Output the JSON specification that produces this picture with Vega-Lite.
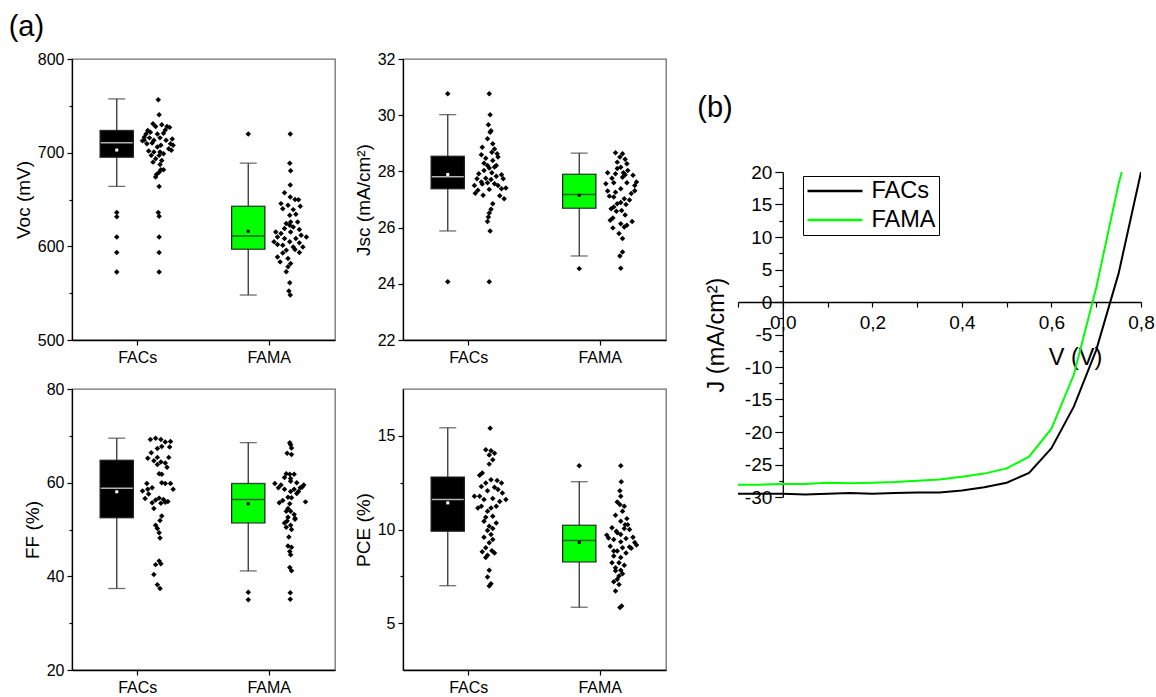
{
"$schema": "https://vega.github.io/schema/vega-lite/v6.json",
"background": "white",
"padding": {"left": 8, "top": 13, "right": 0, "bottom": 0},
"datasets": {
"box": [
{"p":"voc","g":"FACs","lo":664,"q1":695.2,"med":710.5,"q3":723.6,"hi":757.4,"mean":702.8},
{"p":"voc","g":"FAMA","lo":548,"q1":597,"med":611,"q3":642.7,"hi":688.8,"mean":616},
{"p":"jsc","g":"FACs","lo":25.88,"q1":27.38,"med":27.81,"q3":28.54,"hi":30.02,"mean":27.89},
{"p":"jsc","g":"FAMA","lo":24.99,"q1":26.69,"med":27.18,"q3":27.9,"hi":28.65,"mean":27.15},
{"p":"ff","g":"FACs","lo":37.4,"q1":52.5,"med":58.8,"q3":64.8,"hi":69.5,"mean":58.05},
{"p":"ff","g":"FAMA","lo":41.15,"q1":51.4,"med":56.4,"q3":59.8,"hi":68.55,"mean":55.5},
{"p":"pce","g":"FACs","lo":7.0,"q1":9.91,"med":11.6,"q3":12.8,"hi":15.43,"mean":11.42},
{"p":"pce","g":"FAMA","lo":5.85,"q1":8.26,"med":9.41,"q3":10.23,"hi":12.55,"mean":9.31}
],
"out": [
{"p":"voc","g":"FACs","v":636},{"p":"voc","g":"FACs","v":631.5},{"p":"voc","g":"FACs","v":610},{"p":"voc","g":"FACs","v":593.4},{"p":"voc","g":"FACs","v":572.7},
{"p":"voc","g":"FAMA","v":720},
{"p":"jsc","g":"FACs","v":30.76},{"p":"jsc","g":"FACs","v":24.07},
{"p":"jsc","g":"FAMA","v":24.54},
{"p":"ff","g":"FAMA","v":36.6},{"p":"ff","g":"FAMA","v":35.0},
{"p":"pce","g":"FAMA","v":13.4}
],
"pts": [
{"p":"voc","g":"FACs","v":756.6,"j":0},{"p":"voc","g":"FACs","v":740.4,"j":0.05},{"p":"voc","g":"FACs","v":730.8,"j":-0.3},{"p":"voc","g":"FACs","v":728,"j":-0.15},{"p":"voc","g":"FACs","v":729.7,"j":0.2},{"p":"voc","g":"FACs","v":728,"j":0.5},{"p":"voc","g":"FACs","v":727,"j":0.65},{"p":"voc","g":"FACs","v":723.6,"j":-0.6},{"p":"voc","g":"FACs","v":721.8,"j":-0.45},{"p":"voc","g":"FACs","v":720,"j":-0.05},
{"p":"voc","g":"FACs","v":720.7,"j":0.3},{"p":"voc","g":"FACs","v":716.5,"j":-0.8},{"p":"voc","g":"FACs","v":715.8,"j":-0.5},{"p":"voc","g":"FACs","v":715.8,"j":0.1},{"p":"voc","g":"FACs","v":712.6,"j":-0.9},{"p":"voc","g":"FACs","v":713.3,"j":-0.25},{"p":"voc","g":"FACs","v":713.3,"j":0.45},{"p":"voc","g":"FACs","v":709.6,"j":0.7},{"p":"voc","g":"FACs","v":707.8,"j":0.85},{"p":"voc","g":"FACs","v":709.6,"j":-0.65},
{"p":"voc","g":"FACs","v":710.3,"j":-0.35},{"p":"voc","g":"FACs","v":707.8,"j":0.15},{"p":"voc","g":"FACs","v":706.1,"j":-0.05},{"p":"voc","g":"FACs","v":704.3,"j":0.6},{"p":"voc","g":"FACs","v":701.8,"j":-0.55},{"p":"voc","g":"FACs","v":700.7,"j":-0.25},{"p":"voc","g":"FACs","v":700.7,"j":0.1},{"p":"voc","g":"FACs","v":702.5,"j":0.75},{"p":"voc","g":"FACs","v":697.1,"j":-0.4},{"p":"voc","g":"FACs","v":697.1,"j":0.05},
{"p":"voc","g":"FACs","v":698.9,"j":0.3},{"p":"voc","g":"FACs","v":693.5,"j":-0.15},{"p":"voc","g":"FACs","v":691.7,"j":0.2},{"p":"voc","g":"FACs","v":689.9,"j":-0.3},{"p":"voc","g":"FACs","v":687.4,"j":0.1},{"p":"voc","g":"FACs","v":681.7,"j":0.3},{"p":"voc","g":"FACs","v":679.2,"j":0.05},{"p":"voc","g":"FACs","v":676.7,"j":-0.1},{"p":"voc","g":"FACs","v":673.9,"j":-0.15},{"p":"voc","g":"FACs","v":664,"j":0.05},
{"p":"voc","g":"FACs","v":636,"j":0},{"p":"voc","g":"FACs","v":632,"j":0.05},{"p":"voc","g":"FACs","v":610,"j":0.05},{"p":"voc","g":"FACs","v":593.4,"j":0.05},{"p":"voc","g":"FACs","v":572.7,"j":0.05},{"p":"voc","g":"FACs","v":720,"j":-0.7},{"p":"voc","g":"FACs","v":724.3,"j":0.4},{"p":"voc","g":"FACs","v":714.7,"j":0.8},{"p":"voc","g":"FACs","v":713.6,"j":-0.8},{"p":"voc","g":"FACs","v":681.7,"j":0.15},
{"p":"voc","g":"FAMA","v":720,"j":0.03},{"p":"voc","g":"FAMA","v":688.8,"j":0},{"p":"voc","g":"FAMA","v":680.7,"j":0.05},{"p":"voc","g":"FAMA","v":665.4,"j":0.03},{"p":"voc","g":"FAMA","v":657.3,"j":-0.3},{"p":"voc","g":"FAMA","v":652.6,"j":0.03},{"p":"voc","g":"FAMA","v":650.1,"j":0.3},{"p":"voc","g":"FAMA","v":649.7,"j":0.5},{"p":"voc","g":"FAMA","v":645.6,"j":-0.5},{"p":"voc","g":"FAMA","v":643.8,"j":-0.1},
{"p":"voc","g":"FAMA","v":642.8,"j":0.6},{"p":"voc","g":"FAMA","v":640.2,"j":-0.4},{"p":"voc","g":"FAMA","v":639.2,"j":0.2},{"p":"voc","g":"FAMA","v":633.1,"j":0},{"p":"voc","g":"FAMA","v":634.2,"j":0.35},{"p":"voc","g":"FAMA","v":624.3,"j":-0.2},{"p":"voc","g":"FAMA","v":622.5,"j":0},{"p":"voc","g":"FAMA","v":620.7,"j":0.2},{"p":"voc","g":"FAMA","v":619,"j":-0.3},{"p":"voc","g":"FAMA","v":617.9,"j":0.55},
{"p":"voc","g":"FAMA","v":615.3,"j":-0.8},{"p":"voc","g":"FAMA","v":613.6,"j":-0.5},{"p":"voc","g":"FAMA","v":615.3,"j":0.05},{"p":"voc","g":"FAMA","v":611.8,"j":0.65},{"p":"voc","g":"FAMA","v":610,"j":0.95},{"p":"voc","g":"FAMA","v":610,"j":-0.7},{"p":"voc","g":"FAMA","v":608.3,"j":-0.3},{"p":"voc","g":"FAMA","v":608.3,"j":0.35},{"p":"voc","g":"FAMA","v":604.8,"j":-0.9},{"p":"voc","g":"FAMA","v":604.8,"j":0},
{"p":"voc","g":"FAMA","v":603.7,"j":0.55},{"p":"voc","g":"FAMA","v":601.2,"j":-0.4},{"p":"voc","g":"FAMA","v":599.4,"j":0.2},{"p":"voc","g":"FAMA","v":599.4,"j":0.75},{"p":"voc","g":"FAMA","v":595.8,"j":-0.2},{"p":"voc","g":"FAMA","v":596.5,"j":0.3},{"p":"voc","g":"FAMA","v":593.4,"j":0.55},{"p":"voc","g":"FAMA","v":593,"j":-0.4},{"p":"voc","g":"FAMA","v":588.7,"j":-0.7},{"p":"voc","g":"FAMA","v":586.9,"j":-0.1},
{"p":"voc","g":"FAMA","v":583.4,"j":-0.55},{"p":"voc","g":"FAMA","v":581.6,"j":0.05},{"p":"voc","g":"FAMA","v":578.1,"j":-0.1},{"p":"voc","g":"FAMA","v":572.8,"j":-0.2},{"p":"voc","g":"FAMA","v":561,"j":0},{"p":"voc","g":"FAMA","v":552.2,"j":-0.05},{"p":"voc","g":"FAMA","v":548,"j":0.03},{"p":"voc","g":"FAMA","v":626,"j":0.05},{"p":"voc","g":"FAMA","v":626,"j":0.45},{"p":"voc","g":"FAMA","v":602,"j":-0.7},
{"p":"jsc","g":"FACs","v":30.76,"j":0},{"p":"jsc","g":"FACs","v":30.02,"j":0.05},{"p":"jsc","g":"FACs","v":29.66,"j":-0.05},{"p":"jsc","g":"FACs","v":29.45,"j":0.1},{"p":"jsc","g":"FACs","v":29.39,"j":0.05},{"p":"jsc","g":"FACs","v":28.86,"j":-0.4},{"p":"jsc","g":"FACs","v":29.16,"j":-0.1},{"p":"jsc","g":"FACs","v":28.98,"j":0.2},{"p":"jsc","g":"FACs","v":28.8,"j":0.3},{"p":"jsc","g":"FACs","v":28.59,"j":-0.45},
{"p":"jsc","g":"FACs","v":28.68,"j":0.15},{"p":"jsc","g":"FACs","v":28.63,"j":0.45},{"p":"jsc","g":"FACs","v":28.51,"j":0.5},{"p":"jsc","g":"FACs","v":28.47,"j":-0.2},{"p":"jsc","g":"FACs","v":28.39,"j":0.2},{"p":"jsc","g":"FACs","v":28.21,"j":-0.1},{"p":"jsc","g":"FACs","v":28.21,"j":0.4},{"p":"jsc","g":"FACs","v":28.12,"j":0},{"p":"jsc","g":"FACs","v":28.03,"j":-0.3},{"p":"jsc","g":"FACs","v":27.95,"j":0.15},
{"p":"jsc","g":"FACs","v":27.92,"j":-0.6},{"p":"jsc","g":"FACs","v":27.88,"j":0.7},{"p":"jsc","g":"FACs","v":27.83,"j":0.4},{"p":"jsc","g":"FACs","v":27.76,"j":-0.2},{"p":"jsc","g":"FACs","v":27.74,"j":-0.7},{"p":"jsc","g":"FACs","v":27.71,"j":0.1},{"p":"jsc","g":"FACs","v":27.74,"j":0.8},{"p":"jsc","g":"FACs","v":27.62,"j":-0.45},{"p":"jsc","g":"FACs","v":27.6,"j":-0.1},{"p":"jsc","g":"FACs","v":27.56,"j":0.3},
{"p":"jsc","g":"FACs","v":27.5,"j":-0.85},{"p":"jsc","g":"FACs","v":27.55,"j":-0.4},{"p":"jsc","g":"FACs","v":27.41,"j":0.95},{"p":"jsc","g":"FACs","v":27.38,"j":0.7},{"p":"jsc","g":"FACs","v":27.36,"j":0},{"p":"jsc","g":"FACs","v":27.33,"j":-0.65},{"p":"jsc","g":"FACs","v":27.22,"j":-0.8},{"p":"jsc","g":"FACs","v":27.15,"j":-0.35},{"p":"jsc","g":"FACs","v":27.13,"j":0.6},{"p":"jsc","g":"FACs","v":27.03,"j":0.85},
{"p":"jsc","g":"FACs","v":26.85,"j":0.2},{"p":"jsc","g":"FACs","v":26.65,"j":0.1},{"p":"jsc","g":"FACs","v":26.52,"j":0},{"p":"jsc","g":"FACs","v":26.38,"j":-0.05},{"p":"jsc","g":"FACs","v":26.22,"j":-0.1},{"p":"jsc","g":"FACs","v":25.88,"j":0.05},{"p":"jsc","g":"FACs","v":24.07,"j":0},{"p":"jsc","g":"FACs","v":28.16,"j":0.3},{"p":"jsc","g":"FACs","v":28.29,"j":-0.3},{"p":"jsc","g":"FACs","v":27.5,"j":0.5},
{"p":"jsc","g":"FAMA","v":28.66,"j":-0.3},{"p":"jsc","g":"FAMA","v":28.63,"j":0.1},{"p":"jsc","g":"FAMA","v":28.51,"j":-0.05},{"p":"jsc","g":"FAMA","v":28.43,"j":0.25},{"p":"jsc","g":"FAMA","v":28.33,"j":-0.2},{"p":"jsc","g":"FAMA","v":28.27,"j":0.35},{"p":"jsc","g":"FAMA","v":28.15,"j":0},{"p":"jsc","g":"FAMA","v":27.95,"j":-0.75},{"p":"jsc","g":"FAMA","v":27.92,"j":-0.3},{"p":"jsc","g":"FAMA","v":27.95,"j":0.15},
{"p":"jsc","g":"FAMA","v":27.86,"j":0.7},{"p":"jsc","g":"FAMA","v":27.88,"j":0.25},{"p":"jsc","g":"FAMA","v":27.76,"j":-0.5},{"p":"jsc","g":"FAMA","v":27.79,"j":0.1},{"p":"jsc","g":"FAMA","v":27.62,"j":0.9},{"p":"jsc","g":"FAMA","v":27.56,"j":-0.85},{"p":"jsc","g":"FAMA","v":27.6,"j":-0.4},{"p":"jsc","g":"FAMA","v":27.6,"j":0.35},{"p":"jsc","g":"FAMA","v":27.38,"j":0},{"p":"jsc","g":"FAMA","v":27.31,"j":0.8},
{"p":"jsc","g":"FAMA","v":27.21,"j":0.6},{"p":"jsc","g":"FAMA","v":27.12,"j":-0.65},{"p":"jsc","g":"FAMA","v":27.09,"j":-0.4},{"p":"jsc","g":"FAMA","v":27.03,"j":0.2},{"p":"jsc","g":"FAMA","v":26.98,"j":0.5},{"p":"jsc","g":"FAMA","v":26.89,"j":0},{"p":"jsc","g":"FAMA","v":26.85,"j":-0.2},{"p":"jsc","g":"FAMA","v":26.82,"j":0.3},{"p":"jsc","g":"FAMA","v":26.73,"j":-0.4},{"p":"jsc","g":"FAMA","v":26.67,"j":-0.55},
{"p":"jsc","g":"FAMA","v":26.61,"j":0.05},{"p":"jsc","g":"FAMA","v":26.58,"j":-0.25},{"p":"jsc","g":"FAMA","v":26.34,"j":-0.45},{"p":"jsc","g":"FAMA","v":26.26,"j":-0.6},{"p":"jsc","g":"FAMA","v":26.22,"j":0.65},{"p":"jsc","g":"FAMA","v":26.14,"j":0},{"p":"jsc","g":"FAMA","v":26.08,"j":0.35},{"p":"jsc","g":"FAMA","v":26.02,"j":0.2},{"p":"jsc","g":"FAMA","v":25.99,"j":-0.45},{"p":"jsc","g":"FAMA","v":25.79,"j":-0.1},
{"p":"jsc","g":"FAMA","v":25.61,"j":0.1},{"p":"jsc","g":"FAMA","v":25.13,"j":0.1},{"p":"jsc","g":"FAMA","v":24.99,"j":-0.05},{"p":"jsc","g":"FAMA","v":24.55,"j":0},{"p":"jsc","g":"FAMA","v":27.3,"j":-0.75},{"p":"jsc","g":"FAMA","v":27.5,"j":0.8},{"p":"jsc","g":"FAMA","v":28.1,"j":-0.2},{"p":"jsc","g":"FAMA","v":28.03,"j":0.4},{"p":"jsc","g":"FAMA","v":27.26,"j":-0.3},{"p":"jsc","g":"FAMA","v":26.45,"j":0.25},
{"p":"ff","g":"FACs","v":69.2,"j":-0.45},{"p":"ff","g":"FACs","v":69.5,"j":-0.15},{"p":"ff","g":"FACs","v":69.2,"j":0.15},{"p":"ff","g":"FACs","v":68.7,"j":0.4},{"p":"ff","g":"FACs","v":67.6,"j":0.65},{"p":"ff","g":"FACs","v":67.7,"j":0.2},{"p":"ff","g":"FACs","v":67.3,"j":-0.05},{"p":"ff","g":"FACs","v":66.4,"j":-0.4},{"p":"ff","g":"FACs","v":65.4,"j":0.6},{"p":"ff","g":"FACs","v":65.2,"j":-0.6},
{"p":"ff","g":"FACs","v":64.7,"j":-0.25},{"p":"ff","g":"FACs","v":64.4,"j":0.15},{"p":"ff","g":"FACs","v":64.2,"j":0.4},{"p":"ff","g":"FACs","v":63.9,"j":-0.05},{"p":"ff","g":"FACs","v":63.3,"j":0.5},{"p":"ff","g":"FACs","v":61.9,"j":0.05},{"p":"ff","g":"FACs","v":61.8,"j":0.2},{"p":"ff","g":"FACs","v":60.0,"j":0.2},{"p":"ff","g":"FACs","v":59.8,"j":0.7},{"p":"ff","g":"FACs","v":59.8,"j":-0.65},
{"p":"ff","g":"FACs","v":58.6,"j":0.85},{"p":"ff","g":"FACs","v":58.9,"j":-0.35},{"p":"ff","g":"FACs","v":58.2,"j":-0.9},{"p":"ff","g":"FACs","v":57.6,"j":-0.55},{"p":"ff","g":"FACs","v":56.6,"j":-0.75},{"p":"ff","g":"FACs","v":56.7,"j":0.05},{"p":"ff","g":"FACs","v":56.4,"j":0.3},{"p":"ff","g":"FACs","v":56.3,"j":-0.15},{"p":"ff","g":"FACs","v":56.0,"j":0.55},{"p":"ff","g":"FACs","v":55.7,"j":-0.35},
{"p":"ff","g":"FACs","v":55.6,"j":0.15},{"p":"ff","g":"FACs","v":54.5,"j":-0.25},{"p":"ff","g":"FACs","v":52.9,"j":0.2},{"p":"ff","g":"FACs","v":51.9,"j":0.1},{"p":"ff","g":"FACs","v":50.9,"j":-0.15},{"p":"ff","g":"FACs","v":50.2,"j":-0.05},{"p":"ff","g":"FACs","v":49.3,"j":0.05},{"p":"ff","g":"FACs","v":48.2,"j":0.1},{"p":"ff","g":"FACs","v":43.3,"j":0.05},{"p":"ff","g":"FACs","v":42.7,"j":0.15},
{"p":"ff","g":"FACs","v":42.5,"j":-0.15},{"p":"ff","g":"FACs","v":40.4,"j":-0.25},{"p":"ff","g":"FACs","v":38.2,"j":-0.05},{"p":"ff","g":"FACs","v":37.4,"j":0.1},{"p":"ff","g":"FACs","v":65.4,"j":-0.05},{"p":"ff","g":"FACs","v":59.8,"j":0.4},{"p":"ff","g":"FACs","v":58.6,"j":-0.6},{"p":"ff","g":"FACs","v":68.8,"j":0.7},{"p":"ff","g":"FACs","v":55.8,"j":0.4},
{"p":"ff","g":"FAMA","v":68.5,"j":0},{"p":"ff","g":"FAMA","v":68.1,"j":0.05},{"p":"ff","g":"FAMA","v":67.4,"j":0.1},{"p":"ff","g":"FAMA","v":66.3,"j":-0.15},{"p":"ff","g":"FAMA","v":66.0,"j":0.1},{"p":"ff","g":"FAMA","v":61.9,"j":-0.2},{"p":"ff","g":"FAMA","v":61.8,"j":0},{"p":"ff","g":"FAMA","v":61.8,"j":0.25},{"p":"ff","g":"FAMA","v":60.9,"j":0.05},{"p":"ff","g":"FAMA","v":60.0,"j":0.4},
{"p":"ff","g":"FAMA","v":59.8,"j":-0.85},{"p":"ff","g":"FAMA","v":59.5,"j":-0.5},{"p":"ff","g":"FAMA","v":58.9,"j":-0.65},{"p":"ff","g":"FAMA","v":59.5,"j":0.8},{"p":"ff","g":"FAMA","v":58.9,"j":0.6},{"p":"ff","g":"FAMA","v":58.6,"j":0.25},{"p":"ff","g":"FAMA","v":58.6,"j":-0.3},{"p":"ff","g":"FAMA","v":58.1,"j":0.05},{"p":"ff","g":"FAMA","v":58.1,"j":0.5},{"p":"ff","g":"FAMA","v":56.9,"j":-0.1},
{"p":"ff","g":"FAMA","v":55.9,"j":0.9},{"p":"ff","g":"FAMA","v":56.2,"j":-0.4},{"p":"ff","g":"FAMA","v":55.7,"j":-0.6},{"p":"ff","g":"FAMA","v":55.5,"j":0},{"p":"ff","g":"FAMA","v":54.5,"j":-0.1},{"p":"ff","g":"FAMA","v":53.9,"j":0.05},{"p":"ff","g":"FAMA","v":53.2,"j":0.25},{"p":"ff","g":"FAMA","v":52.6,"j":-0.1},{"p":"ff","g":"FAMA","v":52.4,"j":0.3},{"p":"ff","g":"FAMA","v":51.4,"j":-0.3},
{"p":"ff","g":"FAMA","v":50.9,"j":0.05},{"p":"ff","g":"FAMA","v":50.5,"j":-0.2},{"p":"ff","g":"FAMA","v":50.0,"j":0.1},{"p":"ff","g":"FAMA","v":48.4,"j":-0.05},{"p":"ff","g":"FAMA","v":46.5,"j":-0.1},{"p":"ff","g":"FAMA","v":46.2,"j":0.1},{"p":"ff","g":"FAMA","v":45.3,"j":0},{"p":"ff","g":"FAMA","v":44.6,"j":0.05},{"p":"ff","g":"FAMA","v":41.9,"j":0},{"p":"ff","g":"FAMA","v":41.2,"j":0.1},
{"p":"ff","g":"FAMA","v":36.5,"j":0.03},{"p":"ff","g":"FAMA","v":35.1,"j":0.03},{"p":"ff","g":"FAMA","v":60.3,"j":0.05},{"p":"ff","g":"FAMA","v":53.9,"j":-0.2},{"p":"ff","g":"FAMA","v":52.2,"j":0.3},{"p":"ff","g":"FAMA","v":57.7,"j":0.4},{"p":"ff","g":"FAMA","v":61.1,"j":-0.3},{"p":"ff","g":"FAMA","v":56.8,"j":0.1},{"p":"ff","g":"FAMA","v":59.0,"j":0.7},{"p":"ff","g":"FAMA","v":51.8,"j":-0.15},
{"p":"pce","g":"FACs","v":15.4,"j":0.05},{"p":"pce","g":"FACs","v":14.26,"j":-0.2},{"p":"pce","g":"FACs","v":14.2,"j":0.1},{"p":"pce","g":"FACs","v":14.07,"j":0.3},{"p":"pce","g":"FACs","v":13.98,"j":0},{"p":"pce","g":"FACs","v":13.72,"j":0.2},{"p":"pce","g":"FACs","v":13.49,"j":0},{"p":"pce","g":"FACs","v":13.01,"j":-0.4},{"p":"pce","g":"FACs","v":12.89,"j":-0.55},{"p":"pce","g":"FACs","v":12.66,"j":0.1},
{"p":"pce","g":"FACs","v":12.48,"j":0.7},{"p":"pce","g":"FACs","v":12.61,"j":0.45},{"p":"pce","g":"FACs","v":12.48,"j":-0.2},{"p":"pce","g":"FACs","v":12.25,"j":0.3},{"p":"pce","g":"FACs","v":12.07,"j":-0.1},{"p":"pce","g":"FACs","v":11.95,"j":0.75},{"p":"pce","g":"FACs","v":11.77,"j":-0.55},{"p":"pce","g":"FACs","v":11.77,"j":-0.85},{"p":"pce","g":"FACs","v":11.65,"j":0.2},{"p":"pce","g":"FACs","v":11.6,"j":-0.3},
{"p":"pce","g":"FACs","v":11.6,"j":0.95},{"p":"pce","g":"FACs","v":11.24,"j":-0.45},{"p":"pce","g":"FACs","v":11.24,"j":0.4},{"p":"pce","g":"FACs","v":11.15,"j":0.1},{"p":"pce","g":"FACs","v":11.15,"j":-0.65},{"p":"pce","g":"FACs","v":10.71,"j":0.2},{"p":"pce","g":"FACs","v":10.65,"j":-0.2},{"p":"pce","g":"FACs","v":10.44,"j":-0.3},{"p":"pce","g":"FACs","v":10.18,"j":0},{"p":"pce","g":"FACs","v":10.05,"j":0.2},
{"p":"pce","g":"FACs","v":9.95,"j":-0.1},{"p":"pce","g":"FACs","v":9.73,"j":0.1},{"p":"pce","g":"FACs","v":9.59,"j":-0.3},{"p":"pce","g":"FACs","v":9.47,"j":0.2},{"p":"pce","g":"FACs","v":9.29,"j":0},{"p":"pce","g":"FACs","v":9.02,"j":-0.2},{"p":"pce","g":"FACs","v":8.87,"j":0.15},{"p":"pce","g":"FACs","v":8.81,"j":-0.4},{"p":"pce","g":"FACs","v":8.63,"j":-0.1},{"p":"pce","g":"FACs","v":8.75,"j":0.3},
{"p":"pce","g":"FACs","v":7.82,"j":0},{"p":"pce","g":"FACs","v":7.46,"j":-0.1},{"p":"pce","g":"FACs","v":7.11,"j":0.1},{"p":"pce","g":"FACs","v":6.99,"j":0},{"p":"pce","g":"FACs","v":12.13,"j":0.5},{"p":"pce","g":"FACs","v":12.3,"j":-0.45},{"p":"pce","g":"FACs","v":11.5,"j":0.6},{"p":"pce","g":"FACs","v":10.98,"j":-0.1},{"p":"pce","g":"FACs","v":10.35,"j":0.4},{"p":"pce","g":"FACs","v":8.5,"j":-0.2},
{"p":"pce","g":"FAMA","v":13.4,"j":0},{"p":"pce","g":"FAMA","v":12.55,"j":0.03},{"p":"pce","g":"FAMA","v":12.07,"j":-0.05},{"p":"pce","g":"FAMA","v":11.77,"j":0},{"p":"pce","g":"FAMA","v":11.47,"j":-0.2},{"p":"pce","g":"FAMA","v":11.33,"j":-0.05},{"p":"pce","g":"FAMA","v":11.24,"j":0.2},{"p":"pce","g":"FAMA","v":10.76,"j":-0.3},{"p":"pce","g":"FAMA","v":10.58,"j":0.35},{"p":"pce","g":"FAMA","v":10.44,"j":0},
{"p":"pce","g":"FAMA","v":10.26,"j":0.25},{"p":"pce","g":"FAMA","v":10.09,"j":-0.5},{"p":"pce","g":"FAMA","v":9.91,"j":-0.25},{"p":"pce","g":"FAMA","v":10.0,"j":0.5},{"p":"pce","g":"FAMA","v":9.7,"j":-0.8},{"p":"pce","g":"FAMA","v":9.73,"j":0},{"p":"pce","g":"FAMA","v":9.59,"j":0.7},{"p":"pce","g":"FAMA","v":9.47,"j":-0.4},{"p":"pce","g":"FAMA","v":9.52,"j":0.3},{"p":"pce","g":"FAMA","v":9.34,"j":0},
{"p":"pce","g":"FAMA","v":9.17,"j":0.9},{"p":"pce","g":"FAMA","v":9.11,"j":-0.6},{"p":"pce","g":"FAMA","v":9.06,"j":0.5},{"p":"pce","g":"FAMA","v":9.02,"j":0.1},{"p":"pce","g":"FAMA","v":8.85,"j":-0.2},{"p":"pce","g":"FAMA","v":8.75,"j":0.3},{"p":"pce","g":"FAMA","v":8.58,"j":-0.4},{"p":"pce","g":"FAMA","v":8.5,"j":0},{"p":"pce","g":"FAMA","v":8.22,"j":-0.1},{"p":"pce","g":"FAMA","v":8.09,"j":0.2},
{"p":"pce","g":"FAMA","v":7.96,"j":-0.3},{"p":"pce","g":"FAMA","v":7.82,"j":0},{"p":"pce","g":"FAMA","v":7.64,"j":0.1},{"p":"pce","g":"FAMA","v":7.52,"j":-0.1},{"p":"pce","g":"FAMA","v":7.34,"j":-0.2},{"p":"pce","g":"FAMA","v":7.21,"j":-0.4},{"p":"pce","g":"FAMA","v":7.07,"j":-0.1},{"p":"pce","g":"FAMA","v":6.72,"j":-0.3},{"p":"pce","g":"FAMA","v":5.92,"j":0.05},{"p":"pce","g":"FAMA","v":5.83,"j":-0.05},
{"p":"pce","g":"FAMA","v":9.3,"j":0.8},{"p":"pce","g":"FAMA","v":9.55,"j":-0.7},{"p":"pce","g":"FAMA","v":10.26,"j":0.4},{"p":"pce","g":"FAMA","v":8.85,"j":-0.4},{"p":"pce","g":"FAMA","v":10.98,"j":0.1},{"p":"pce","g":"FAMA","v":9.82,"j":-0.2},{"p":"pce","g":"FAMA","v":9.0,"j":0.6},{"p":"pce","g":"FAMA","v":8.22,"j":-0.5},{"p":"pce","g":"FAMA","v":10.05,"j":0.2},{"p":"pce","g":"FAMA","v":7.8,"j":-0.3}
],
"jv": [
{"s":"FACs","V":-0.1,"J":-29.5},{"s":"FACs","V":-0.05,"J":-29.5},{"s":"FACs","V":0,"J":-29.5},{"s":"FACs","V":0.05,"J":-29.6},{"s":"FACs","V":0.1,"J":-29.5},{"s":"FACs","V":0.15,"J":-29.4},{"s":"FACs","V":0.2,"J":-29.5},{"s":"FACs","V":0.25,"J":-29.4},{"s":"FACs","V":0.3,"J":-29.3},{"s":"FACs","V":0.35,"J":-29.3},{"s":"FACs","V":0.4,"J":-29.0},{"s":"FACs","V":0.45,"J":-28.5},{"s":"FACs","V":0.5,"J":-27.8},{"s":"FACs","V":0.55,"J":-26.3},{"s":"FACs","V":0.6,"J":-22.5},{"s":"FACs","V":0.65,"J":-16.1},{"s":"FACs","V":0.7,"J":-7.4},{"s":"FACs","V":0.75,"J":4.4},{"s":"FACs","V":0.8,"J":20},
{"s":"FAMA","V":-0.1,"J":-28.1},{"s":"FAMA","V":-0.05,"J":-28.1},{"s":"FAMA","V":0,"J":-28.0},{"s":"FAMA","V":0.05,"J":-28.0},{"s":"FAMA","V":0.1,"J":-27.8},{"s":"FAMA","V":0.15,"J":-27.9},{"s":"FAMA","V":0.2,"J":-27.8},{"s":"FAMA","V":0.25,"J":-27.7},{"s":"FAMA","V":0.3,"J":-27.5},{"s":"FAMA","V":0.35,"J":-27.3},{"s":"FAMA","V":0.4,"J":-26.9},{"s":"FAMA","V":0.45,"J":-26.4},{"s":"FAMA","V":0.5,"J":-25.6},{"s":"FAMA","V":0.55,"J":-23.8},{"s":"FAMA","V":0.6,"J":-19.5},{"s":"FAMA","V":0.65,"J":-11.2},{"s":"FAMA","V":0.7,"J":2.2},{"s":"FAMA","V":0.75,"J":18.2},{"s":"FAMA","V":0.757,"J":20}
]
},
"resolve": {"legend": {"color": "independent"}},
"hconcat": [
{
"title": {"text": "(a)", "anchor": "start", "fontSize": 29, "offset": 8, "dx": -5},
"columns": 2,
"spacing": {"row": 14, "column": 17},
"concat": [
{
"width": 263, "height": 281,
"layer": [
{"data": {"name": "box"}, "transform": [{"filter": "datum.p==='voc'"}],
 "mark": {"type": "rule", "color": "#333", "strokeWidth": 1.3},
 "encoding": {
  "x": {"field": "g", "type": "nominal", "scale": {"type": "band", "domain": ["FACs", "FAMA"], "paddingInner": 0, "paddingOuter": 0}, "axis": {"title": null, "labelAngle": 0, "tickSize": 5, "labelPadding": 4, "labelFontSize": 16}},
  "xOffset": {"datum": -2.371, "type": "quantitative", "scale": {"domain": [-1, 1], "range": [68.75, 103.75]}},
  "y": {"field": "lo", "type": "quantitative", "title": "Voc (mV)", "scale": {"domain": [500, 800], "nice": false, "zero": false},
   "axis": {"values": [500, 550, 600, 650, 700, 750, 800], "labelExpr": "datum.value % 100 === 0 ? datum.label : ''", "tickSize": {"condition": {"test": "datum.value % 100 !== 0", "value": 3}, "value": 5}, "labelFontSize": 16, "titleFontSize": 19, "labelPadding": 3, "titlePadding": 4}},
  "y2": {"field": "hi"}}},
{"data": {"name": "box"}, "transform": [{"filter": "datum.p==='voc'"}, {"fold": ["lo", "hi"], "as": ["k", "val"]}],
 "mark": {"type": "tick", "color": "#333", "size": 17, "thickness": 1.3},
 "encoding": {"x": {"field": "g", "type": "nominal"}, "xOffset": {"datum": -2.371, "type": "quantitative"}, "y": {"field": "val", "type": "quantitative"}}},
{"data": {"name": "box"}, "transform": [{"filter": "datum.p==='voc'"}],
 "mark": {"type": "rule", "color": "#222", "strokeWidth": 34.5},
 "encoding": {"x": {"field": "g", "type": "nominal"}, "xOffset": {"datum": -2.371, "type": "quantitative"}, "y": {"field": "q1", "type": "quantitative"}, "y2": {"field": "q3"}}},
{"data": {"name": "box"}, "transform": [{"filter": "datum.p==='voc'"}],
 "mark": {"type": "rule", "strokeWidth": 32},
 "encoding": {"x": {"field": "g", "type": "nominal"}, "xOffset": {"datum": -2.371, "type": "quantitative"}, "y": {"field": "q1", "type": "quantitative"}, "y2": {"field": "q3"}, "color": {"condition": {"test": "datum.g==='FACs'", "value": "#000000"}, "value": "#00ff00"}}},
{"data": {"name": "box"}, "transform": [{"filter": "datum.p==='voc'"}, {"fold": ["q1", "q3"], "as": ["k", "val"]}],
 "mark": {"type": "tick", "color": "#222", "size": 34.5, "thickness": 1.5},
 "encoding": {"x": {"field": "g", "type": "nominal"}, "xOffset": {"datum": -2.371, "type": "quantitative"}, "y": {"field": "val", "type": "quantitative"}}},
{"data": {"name": "box"}, "transform": [{"filter": "datum.p==='voc'"}],
 "mark": {"type": "tick", "size": 32, "thickness": 1.5},
 "encoding": {"x": {"field": "g", "type": "nominal"}, "xOffset": {"datum": -2.371, "type": "quantitative"}, "y": {"field": "med", "type": "quantitative"}, "color": {"condition": {"test": "datum.g==='FACs'", "value": "#ffffff"}, "value": "#222222"}}},
{"data": {"name": "box"}, "transform": [{"filter": "datum.p==='voc'"}],
 "mark": {"type": "square", "size": 9, "opacity": 1},
 "encoding": {"x": {"field": "g", "type": "nominal"}, "xOffset": {"datum": -2.371, "type": "quantitative"}, "y": {"field": "mean", "type": "quantitative"}, "color": {"condition": {"test": "datum.g==='FACs'", "value": "#ffffff"}, "value": "#000000"}}},
{"data": {"name": "out"}, "transform": [{"filter": "datum.p==='voc'"}],
 "mark": {"type": "point", "shape": "diamond", "filled": true, "size": 30, "color": "#000", "opacity": 1},
 "encoding": {"x": {"field": "g", "type": "nominal"}, "xOffset": {"datum": -2.371, "type": "quantitative"}, "y": {"field": "v", "type": "quantitative"}}},
{"data": {"name": "pts"}, "transform": [{"filter": "datum.p==='voc'"}],
 "mark": {"type": "point", "shape": "diamond", "filled": true, "size": 30, "color": "#000", "opacity": 1},
 "encoding": {"x": {"field": "g", "type": "nominal"}, "xOffset": {"field": "j", "type": "quantitative"}, "y": {"field": "v", "type": "quantitative"}}}
]
},
{
"width": 263, "height": 281,
"layer": [
{"data": {"name": "box"}, "transform": [{"filter": "datum.p==='jsc'"}],
 "mark": {"type": "rule", "color": "#333", "strokeWidth": 1.3},
 "encoding": {
  "x": {"field": "g", "type": "nominal", "scale": {"type": "band", "domain": ["FACs", "FAMA"], "paddingInner": 0, "paddingOuter": 0}, "axis": {"title": null, "labelAngle": 0, "tickSize": 5, "labelPadding": 4, "labelFontSize": 16}},
  "xOffset": {"datum": -2.371, "type": "quantitative", "scale": {"domain": [-1, 1], "range": [68.75, 103.75]}},
  "y": {"field": "lo", "type": "quantitative", "title": "Jsc (mA/cm²)", "scale": {"domain": [22, 32], "nice": false, "zero": false},
   "axis": {"values": [22, 23, 24, 25, 26, 27, 28, 29, 30, 31, 32], "labelExpr": "datum.value % 2 === 0 ? datum.label : ''", "tickSize": {"condition": {"test": "datum.value % 2 !== 0", "value": 3}, "value": 5}, "labelFontSize": 16, "titleFontSize": 19, "labelPadding": 3, "titlePadding": 4}},
  "y2": {"field": "hi"}}},
{"data": {"name": "box"}, "transform": [{"filter": "datum.p==='jsc'"}, {"fold": ["lo", "hi"], "as": ["k", "val"]}],
 "mark": {"type": "tick", "color": "#333", "size": 17, "thickness": 1.3},
 "encoding": {"x": {"field": "g", "type": "nominal"}, "xOffset": {"datum": -2.371, "type": "quantitative"}, "y": {"field": "val", "type": "quantitative"}}},
{"data": {"name": "box"}, "transform": [{"filter": "datum.p==='jsc'"}],
 "mark": {"type": "rule", "color": "#222", "strokeWidth": 34.5},
 "encoding": {"x": {"field": "g", "type": "nominal"}, "xOffset": {"datum": -2.371, "type": "quantitative"}, "y": {"field": "q1", "type": "quantitative"}, "y2": {"field": "q3"}}},
{"data": {"name": "box"}, "transform": [{"filter": "datum.p==='jsc'"}],
 "mark": {"type": "rule", "strokeWidth": 32},
 "encoding": {"x": {"field": "g", "type": "nominal"}, "xOffset": {"datum": -2.371, "type": "quantitative"}, "y": {"field": "q1", "type": "quantitative"}, "y2": {"field": "q3"}, "color": {"condition": {"test": "datum.g==='FACs'", "value": "#000000"}, "value": "#00ff00"}}},
{"data": {"name": "box"}, "transform": [{"filter": "datum.p==='jsc'"}, {"fold": ["q1", "q3"], "as": ["k", "val"]}],
 "mark": {"type": "tick", "color": "#222", "size": 34.5, "thickness": 1.5},
 "encoding": {"x": {"field": "g", "type": "nominal"}, "xOffset": {"datum": -2.371, "type": "quantitative"}, "y": {"field": "val", "type": "quantitative"}}},
{"data": {"name": "box"}, "transform": [{"filter": "datum.p==='jsc'"}],
 "mark": {"type": "tick", "size": 32, "thickness": 1.5},
 "encoding": {"x": {"field": "g", "type": "nominal"}, "xOffset": {"datum": -2.371, "type": "quantitative"}, "y": {"field": "med", "type": "quantitative"}, "color": {"condition": {"test": "datum.g==='FACs'", "value": "#ffffff"}, "value": "#222222"}}},
{"data": {"name": "box"}, "transform": [{"filter": "datum.p==='jsc'"}],
 "mark": {"type": "square", "size": 9, "opacity": 1},
 "encoding": {"x": {"field": "g", "type": "nominal"}, "xOffset": {"datum": -2.371, "type": "quantitative"}, "y": {"field": "mean", "type": "quantitative"}, "color": {"condition": {"test": "datum.g==='FACs'", "value": "#ffffff"}, "value": "#000000"}}},
{"data": {"name": "out"}, "transform": [{"filter": "datum.p==='jsc'"}],
 "mark": {"type": "point", "shape": "diamond", "filled": true, "size": 30, "color": "#000", "opacity": 1},
 "encoding": {"x": {"field": "g", "type": "nominal"}, "xOffset": {"datum": -2.371, "type": "quantitative"}, "y": {"field": "v", "type": "quantitative"}}},
{"data": {"name": "pts"}, "transform": [{"filter": "datum.p==='jsc'"}],
 "mark": {"type": "point", "shape": "diamond", "filled": true, "size": 30, "color": "#000", "opacity": 1},
 "encoding": {"x": {"field": "g", "type": "nominal"}, "xOffset": {"field": "j", "type": "quantitative"}, "y": {"field": "v", "type": "quantitative"}}}
]
},
{
"width": 263, "height": 281,
"layer": [
{"data": {"name": "box"}, "transform": [{"filter": "datum.p==='ff'"}],
 "mark": {"type": "rule", "color": "#333", "strokeWidth": 1.3},
 "encoding": {
  "x": {"field": "g", "type": "nominal", "scale": {"type": "band", "domain": ["FACs", "FAMA"], "paddingInner": 0, "paddingOuter": 0}, "axis": {"title": null, "labelAngle": 0, "tickSize": 5, "labelPadding": 4, "labelFontSize": 16}},
  "xOffset": {"datum": -2.371, "type": "quantitative", "scale": {"domain": [-1, 1], "range": [68.75, 103.75]}},
  "y": {"field": "lo", "type": "quantitative", "title": "FF (%)", "scale": {"domain": [20, 80], "nice": false, "zero": false},
   "axis": {"values": [20, 30, 40, 50, 60, 70, 80], "labelExpr": "datum.value % 20 === 0 ? datum.label : ''", "tickSize": {"condition": {"test": "datum.value % 20 !== 0", "value": 3}, "value": 5}, "labelFontSize": 16, "titleFontSize": 19, "labelPadding": 3, "titlePadding": 4}},
  "y2": {"field": "hi"}}},
{"data": {"name": "box"}, "transform": [{"filter": "datum.p==='ff'"}, {"fold": ["lo", "hi"], "as": ["k", "val"]}],
 "mark": {"type": "tick", "color": "#333", "size": 17, "thickness": 1.3},
 "encoding": {"x": {"field": "g", "type": "nominal"}, "xOffset": {"datum": -2.371, "type": "quantitative"}, "y": {"field": "val", "type": "quantitative"}}},
{"data": {"name": "box"}, "transform": [{"filter": "datum.p==='ff'"}],
 "mark": {"type": "rule", "color": "#222", "strokeWidth": 34.5},
 "encoding": {"x": {"field": "g", "type": "nominal"}, "xOffset": {"datum": -2.371, "type": "quantitative"}, "y": {"field": "q1", "type": "quantitative"}, "y2": {"field": "q3"}}},
{"data": {"name": "box"}, "transform": [{"filter": "datum.p==='ff'"}],
 "mark": {"type": "rule", "strokeWidth": 32},
 "encoding": {"x": {"field": "g", "type": "nominal"}, "xOffset": {"datum": -2.371, "type": "quantitative"}, "y": {"field": "q1", "type": "quantitative"}, "y2": {"field": "q3"}, "color": {"condition": {"test": "datum.g==='FACs'", "value": "#000000"}, "value": "#00ff00"}}},
{"data": {"name": "box"}, "transform": [{"filter": "datum.p==='ff'"}, {"fold": ["q1", "q3"], "as": ["k", "val"]}],
 "mark": {"type": "tick", "color": "#222", "size": 34.5, "thickness": 1.5},
 "encoding": {"x": {"field": "g", "type": "nominal"}, "xOffset": {"datum": -2.371, "type": "quantitative"}, "y": {"field": "val", "type": "quantitative"}}},
{"data": {"name": "box"}, "transform": [{"filter": "datum.p==='ff'"}],
 "mark": {"type": "tick", "size": 32, "thickness": 1.5},
 "encoding": {"x": {"field": "g", "type": "nominal"}, "xOffset": {"datum": -2.371, "type": "quantitative"}, "y": {"field": "med", "type": "quantitative"}, "color": {"condition": {"test": "datum.g==='FACs'", "value": "#ffffff"}, "value": "#222222"}}},
{"data": {"name": "box"}, "transform": [{"filter": "datum.p==='ff'"}],
 "mark": {"type": "square", "size": 9, "opacity": 1},
 "encoding": {"x": {"field": "g", "type": "nominal"}, "xOffset": {"datum": -2.371, "type": "quantitative"}, "y": {"field": "mean", "type": "quantitative"}, "color": {"condition": {"test": "datum.g==='FACs'", "value": "#ffffff"}, "value": "#000000"}}},
{"data": {"name": "out"}, "transform": [{"filter": "datum.p==='ff'"}],
 "mark": {"type": "point", "shape": "diamond", "filled": true, "size": 30, "color": "#000", "opacity": 1},
 "encoding": {"x": {"field": "g", "type": "nominal"}, "xOffset": {"datum": -2.371, "type": "quantitative"}, "y": {"field": "v", "type": "quantitative"}}},
{"data": {"name": "pts"}, "transform": [{"filter": "datum.p==='ff'"}],
 "mark": {"type": "point", "shape": "diamond", "filled": true, "size": 30, "color": "#000", "opacity": 1},
 "encoding": {"x": {"field": "g", "type": "nominal"}, "xOffset": {"field": "j", "type": "quantitative"}, "y": {"field": "v", "type": "quantitative"}}}
]
},
{
"width": 263, "height": 281,
"layer": [
{"data": {"name": "box"}, "transform": [{"filter": "datum.p==='pce'"}],
 "mark": {"type": "rule", "color": "#333", "strokeWidth": 1.3},
 "encoding": {
  "x": {"field": "g", "type": "nominal", "scale": {"type": "band", "domain": ["FACs", "FAMA"], "paddingInner": 0, "paddingOuter": 0}, "axis": {"title": null, "labelAngle": 0, "tickSize": 5, "labelPadding": 4, "labelFontSize": 16}},
  "xOffset": {"datum": -2.371, "type": "quantitative", "scale": {"domain": [-1, 1], "range": [68.75, 103.75]}},
  "y": {"field": "lo", "type": "quantitative", "title": "PCE (%)", "scale": {"domain": [2.5, 17.5], "nice": false, "zero": false},
   "axis": {"values": [5, 7.5, 10, 12.5, 15], "labelExpr": "datum.value % 5 === 0 ? datum.label : ''", "tickSize": {"condition": {"test": "datum.value % 5 !== 0", "value": 3}, "value": 5}, "labelFontSize": 16, "titleFontSize": 19, "labelPadding": 3, "titlePadding": 4}},
  "y2": {"field": "hi"}}},
{"data": {"name": "box"}, "transform": [{"filter": "datum.p==='pce'"}, {"fold": ["lo", "hi"], "as": ["k", "val"]}],
 "mark": {"type": "tick", "color": "#333", "size": 17, "thickness": 1.3},
 "encoding": {"x": {"field": "g", "type": "nominal"}, "xOffset": {"datum": -2.371, "type": "quantitative"}, "y": {"field": "val", "type": "quantitative"}}},
{"data": {"name": "box"}, "transform": [{"filter": "datum.p==='pce'"}],
 "mark": {"type": "rule", "color": "#222", "strokeWidth": 34.5},
 "encoding": {"x": {"field": "g", "type": "nominal"}, "xOffset": {"datum": -2.371, "type": "quantitative"}, "y": {"field": "q1", "type": "quantitative"}, "y2": {"field": "q3"}}},
{"data": {"name": "box"}, "transform": [{"filter": "datum.p==='pce'"}],
 "mark": {"type": "rule", "strokeWidth": 32},
 "encoding": {"x": {"field": "g", "type": "nominal"}, "xOffset": {"datum": -2.371, "type": "quantitative"}, "y": {"field": "q1", "type": "quantitative"}, "y2": {"field": "q3"}, "color": {"condition": {"test": "datum.g==='FACs'", "value": "#000000"}, "value": "#00ff00"}}},
{"data": {"name": "box"}, "transform": [{"filter": "datum.p==='pce'"}, {"fold": ["q1", "q3"], "as": ["k", "val"]}],
 "mark": {"type": "tick", "color": "#222", "size": 34.5, "thickness": 1.5},
 "encoding": {"x": {"field": "g", "type": "nominal"}, "xOffset": {"datum": -2.371, "type": "quantitative"}, "y": {"field": "val", "type": "quantitative"}}},
{"data": {"name": "box"}, "transform": [{"filter": "datum.p==='pce'"}],
 "mark": {"type": "tick", "size": 32, "thickness": 1.5},
 "encoding": {"x": {"field": "g", "type": "nominal"}, "xOffset": {"datum": -2.371, "type": "quantitative"}, "y": {"field": "med", "type": "quantitative"}, "color": {"condition": {"test": "datum.g==='FACs'", "value": "#ffffff"}, "value": "#222222"}}},
{"data": {"name": "box"}, "transform": [{"filter": "datum.p==='pce'"}],
 "mark": {"type": "square", "size": 9, "opacity": 1},
 "encoding": {"x": {"field": "g", "type": "nominal"}, "xOffset": {"datum": -2.371, "type": "quantitative"}, "y": {"field": "mean", "type": "quantitative"}, "color": {"condition": {"test": "datum.g==='FACs'", "value": "#ffffff"}, "value": "#000000"}}},
{"data": {"name": "out"}, "transform": [{"filter": "datum.p==='pce'"}],
 "mark": {"type": "point", "shape": "diamond", "filled": true, "size": 30, "color": "#000", "opacity": 1},
 "encoding": {"x": {"field": "g", "type": "nominal"}, "xOffset": {"datum": -2.371, "type": "quantitative"}, "y": {"field": "v", "type": "quantitative"}}},
{"data": {"name": "pts"}, "transform": [{"filter": "datum.p==='pce'"}],
 "mark": {"type": "point", "shape": "diamond", "filled": true, "size": 30, "color": "#000", "opacity": 1},
 "encoding": {"x": {"field": "g", "type": "nominal"}, "xOffset": {"field": "j", "type": "quantitative"}, "y": {"field": "v", "type": "quantitative"}}}
]
}
]
},
{
"spacing": 0,
"resolve": {"legend": {"color": "independent"}},
"vconcat": [
{
"width": 10, "height": 35,
"view": {"stroke": null},
"data": {"values": []},
"mark": {"type": "point", "opacity": 0},
"encoding": {}
},
{
"width": 403, "height": 325,
"view": {"stroke": null},
"title": {"text": "(b)", "anchor": "start", "fontSize": 29, "offset": 40, "dx": -7},
"data": {"name": "jv"},
"mark": {"type": "line", "strokeWidth": 2, "clip": true},
"encoding": {
 "x": {"field": "V", "type": "quantitative", "title": "V (V)", "scale": {"domain": [-0.1, 0.8], "nice": false, "zero": false},
  "axis": {"offset": -195, "values": [-0.1, 0, 0.1, 0.2, 0.3, 0.4, 0.5, 0.6, 0.7, 0.8], "labelExpr": "round(datum.value*10) % 2 === 0 ? replace(format(datum.value, '.1f'), '.', ',') : ''", "labelFontSize": 19, "tickSize": 5, "labelPadding": 6, "titleFontSize": 23.5, "titleX": 337, "titleY": 55, "titleBaseline": "middle", "titleAlign": "center", "labelFlush": false, "labelOverlap": false}},
 "y": {"field": "J", "type": "quantitative", "title": "J (mA/cm²)", "scale": {"domain": [-30, 20], "nice": false, "zero": false},
  "axis": {"offset": -44.8, "values": [-30, -27.5, -25, -22.5, -20, -17.5, -15, -12.5, -10, -7.5, -5, -2.5, 0, 2.5, 5, 7.5, 10, 12.5, 15, 17.5, 20], "labelExpr": "datum.value % 5 === 0 ? (datum.value < 0 ? '-' + abs(datum.value) : '' + datum.value) : ''", "tickSize": {"condition": {"test": "datum.value % 5 !== 0", "value": 4}, "value": 8}, "labelFontSize": 19, "labelPadding": 3, "titleFontSize": 23.5, "titlePadding": 16, "labelOverlap": false, "labelFlush": false}},
 "color": {"field": "s", "type": "nominal", "scale": {"domain": ["FACs", "FAMA"], "range": ["#000000", "#00ff00"]},
  "legend": {"orient": "none", "legendX": 65, "legendY": 4, "title": null, "strokeColor": "#000", "fillColor": "#fff", "padding": 3, "labelFontSize": 23.5, "labelFont": "Liberation Sans", "labelColor": "#000", "symbolType": "stroke", "symbolSize": 3025, "symbolStrokeWidth": 2.5, "labelOffset": 7.5, "rowPadding": 5, "clipHeight": 24}}
}
}
]
}
],
"spacing": 30,
"config": {
 "font": "Liberation Sans",
 "view": {"stroke": "#707070", "strokeWidth": 1.3},
 "axis": {"labelFont": "Liberation Sans", "titleFont": "Liberation Sans", "labelColor": "#000", "titleColor": "#000", "domainColor": "#000", "tickColor": "#000", "domainWidth": 1.3, "tickWidth": 1.2, "grid": false, "titleFontWeight": "normal"},
 "title": {"font": "Liberation Sans", "fontWeight": "normal", "color": "#000"}
}
}
